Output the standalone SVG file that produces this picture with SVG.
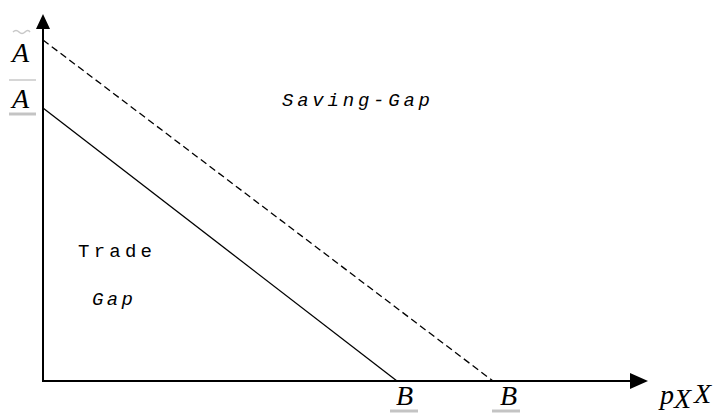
<svg xmlns="http://www.w3.org/2000/svg" width="715" height="414" viewBox="0 0 715 414">
<style>
.ax{stroke:#000;stroke-width:2;fill:none}
.ln{stroke:#000;stroke-width:1.3;fill:none}
.dash{stroke-dasharray:7 4}
.sym{font-family:"Liberation Serif",serif;font-style:italic;font-size:28px;fill:#000}
.mono{font-family:"Liberation Mono",monospace;font-size:19px;fill:#000}
.it{font-style:italic}
.bar{stroke:#c4c4c4;stroke-width:3}
.bar2{stroke:#c8c8c8;stroke-width:1.5;fill:none}
</style>
<rect width="715" height="414" fill="#fff"/>
<g id="axes">
<line class="ax" x1="43" y1="26" x2="43" y2="382"/>
<polygon points="43,14 36,29 50,29" fill="#000"/>
<line class="ax" x1="43" y1="381" x2="632" y2="381"/>
<polygon points="648,381 630,373 630,389" fill="#000"/>
</g>
<g id="connectors">
<line class="ln dash" x1="43" y1="40" x2="493" y2="381"/>
<line class="ln" x1="43" y1="108" x2="397" y2="381"/>
</g>
<g id="labels-y">
<path class="bar2" d="M13,32 q3,-3 6,0 t6,0 t5,0"/>
<text class="sym" x="12" y="62">A</text>
<line class="bar2" x1="9" y1="80" x2="36" y2="80"/>
<text class="sym" x="12" y="108">A</text>
<line class="bar" x1="9" y1="114" x2="36" y2="114"/>
</g>
<g id="labels-x">
<text class="sym" x="396" y="405">B</text>
<line class="bar" x1="390" y1="411" x2="418" y2="411"/>
<text class="sym" x="500" y="405">B</text>
<line class="bar" x1="492" y1="411" x2="520" y2="411"/>
<text class="sym" x="660" y="404" font-size="21">p</text>
<text class="sym" x="674" y="408" font-size="11" fill="#aaa">X</text>
<text class="sym" x="694" y="403" font-size="18">X</text>
</g>
<g id="saving-gap">
<text class="mono it" x="282" y="106" textLength="148" lengthAdjust="spacing">Saving-Gap</text>
</g>
<g id="trade-gap">
<text class="mono" x="78" y="257" textLength="74" lengthAdjust="spacing">Trade</text>
<text class="mono it" x="92" y="305" textLength="41" lengthAdjust="spacing">Gap</text>
</g>
</svg>
